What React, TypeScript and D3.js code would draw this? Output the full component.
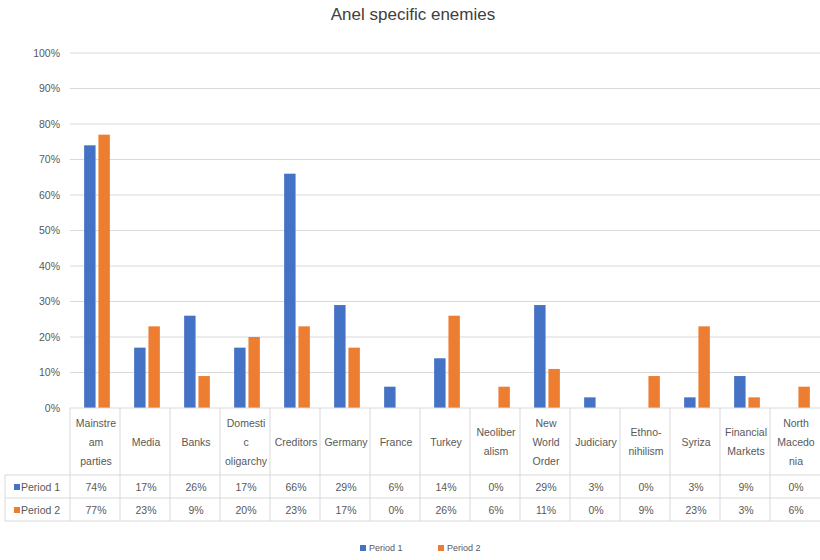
import React from "react";
import * as d3 from "d3";

const categories = [
  "Mainstream parties", "Media", "Banks", "Domestic oligarchy", "Creditors", "Germany", "France",
  "Turkey", "Neoliberalism", "New World Order", "Judiciary", "Ethno-nihilism", "Syriza",
  "Financial Markets", "North Macedonia",
];
const categoryLines = [
  ["Mainstre", "am", "parties"], ["Media"], ["Banks"], ["Domesti", "c", "oligarchy"], ["Creditors"],
  ["Germany"], ["France"], ["Turkey"], ["Neoliber", "alism"], ["New", "World", "Order"], ["Judiciary"],
  ["Ethno-", "nihilism"], ["Syriza"], ["Financial", "Markets"], ["North", "Macedo", "nia"],
];
const seriesNames = ["Period 1", "Period 2"];
const period1 = [74, 17, 26, 17, 66, 29, 6, 14, 0, 29, 3, 0, 3, 9, 0];
const period2 = [77, 23, 9, 20, 23, 17, 0, 26, 6, 11, 0, 9, 23, 3, 6];
const yTicks = [0, 10, 20, 30, 40, 50, 60, 70, 80, 90, 100];
const title = "Anel specific enemies";

const colors = ["#4472C4", "#ED7D31"];
const FONT = "'Liberation Sans', Arial, sans-serif";

export default function App() {
  const W = 820, H = 560;
  const x = d3.scaleBand<string>().domain(categories).range([72, 822]).padding(0);
  const xs = d3.scaleBand<string>().domain(seriesNames).range([0, x.bandwidth()])
    .paddingInner(0.2).paddingOuter(0.85);
  const y = d3.scaleLinear().domain([0, 100]).range([408, 53]);
  const series = [period1, period2];

  const tableLeft = 5;
  const headerTop = 408;
  const headerBottom = 475;
  const row1Bottom = 498;
  const row2Bottom = 521;
  const rowCenters = [487, 510];
  const gridColor = "#d9d9d9";
  const textColor = "#595959";
  const fs = 10.5;

  return (
    <svg width={W} height={H} style={{ position: "absolute", left: 0, top: 0, background: "#fff" }}
      fontFamily={FONT}>
      <rect x={0} y={0} width={W} height={H} fill="#fff" />
      <text x={413} y={20} textAnchor="middle" fontSize={17} fill="#404040">{title}</text>
      {yTicks.map((t) => (
        <g key={t}>
          {t > 0 && <line x1={70} x2={W} y1={y(t)} y2={y(t)} stroke={gridColor} strokeWidth={1} />}
          <text x={60} y={y(t)} dy="0.35em" textAnchor="end" fontSize={fs} fill={textColor}>{t}%</text>
        </g>
      ))}
      {series.map((vals, si) =>
        vals.map((v, i) => (
          <rect key={`${si}-${i}`} x={(x(categories[i]) as number) + (xs(seriesNames[si]) as number)}
            y={y(v)} width={xs.bandwidth()} height={y(0) - y(v)} fill={colors[si]} />
        ))
      )}
      {/* table */}
      <line x1={70} x2={W} y1={headerTop} y2={headerTop} stroke={gridColor} />
      <line x1={tableLeft} x2={W} y1={headerBottom} y2={headerBottom} stroke={gridColor} />
      <line x1={tableLeft} x2={W} y1={row1Bottom} y2={row1Bottom} stroke={gridColor} />
      <line x1={tableLeft} x2={W} y1={row2Bottom} y2={row2Bottom} stroke={gridColor} />
      <line x1={tableLeft} x2={tableLeft} y1={headerBottom} y2={row2Bottom} stroke={gridColor} />
      {categories.map((c) => (
        <line key={c} x1={(x(c) as number) - 2} x2={(x(c) as number) - 2} y1={headerTop} y2={row2Bottom} stroke={gridColor} />
      ))}
      {categories.map((c, i) => {
        const lines = categoryLines[i];
        const cx = (x(c) as number) + x.bandwidth() / 2 - 1;
        const lh = 19;
        const start = 442 - ((lines.length - 1) * lh) / 2;
        return (
          <text key={c} textAnchor="middle" fontSize={fs} fill={textColor}>
            {lines.map((l, j) => (
              <tspan key={j} x={cx} y={start + j * lh} dy="0.35em">{l}</tspan>
            ))}
          </text>
        );
      })}
      {series.map((vals, si) => (
        <g key={si}>
          <rect x={14} y={rowCenters[si] - 3} width={6} height={6} fill={colors[si]} />
          <text x={21} y={rowCenters[si]} dy="0.35em" fontSize={fs} fill={textColor}>{seriesNames[si]}</text>
          {vals.map((v, i) => (
            <text key={i} x={(x(categories[i]) as number) + x.bandwidth() / 2 - 1} y={rowCenters[si]} dy="0.35em"
              textAnchor="middle" fontSize={fs} fill={textColor}>{v}%</text>
          ))}
        </g>
      ))}
      {/* legend */}
      {seriesNames.map((s, si) => (
        <g key={s} transform={`translate(${360 + si * 78},548)`}>
          <rect x={0} y={-3} width={6} height={6} fill={colors[si]} />
          <text x={9} y={0} dy="0.35em" fontSize={9} fill={textColor}>{s}</text>
        </g>
      ))}
    </svg>
  );
}
